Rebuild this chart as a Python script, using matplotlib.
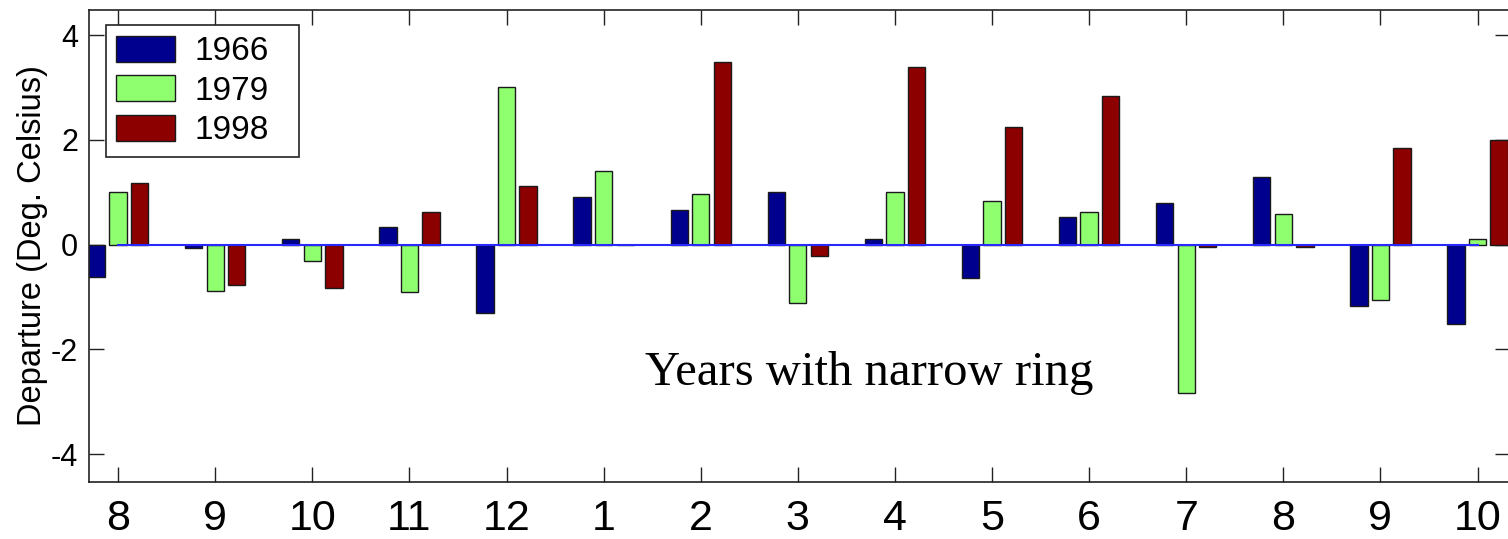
import numpy as np
import matplotlib
matplotlib.use("Agg")
import matplotlib.pyplot as plt

# months along the x axis (Aug of previous year through Oct)
months = ["8", "9", "10", "11", "12", "1", "2", "3", "4", "5", "6", "7", "8", "9", "10"]
years = ["1966", "1979", "1998"]

# temperature departures (deg C)
dep_1966 = [-0.62, -0.07, 0.10, 0.33, -1.30, 0.91, 0.67, 1.00, 0.10, -0.64, 0.52, 0.80, 1.29, -1.17, -1.52]
dep_1979 = [1.00, -0.88, -0.32, -0.91, 3.01, 1.40, 0.97, -1.12, 1.00, 0.84, 0.62, -2.83, 0.59, -1.05, 0.10]
dep_1998 = [1.17, -0.77, -0.82, 0.62, 1.12, 0.00, 3.48, -0.21, 3.39, 2.25, 2.84, -0.04, -0.04, 1.84, 2.00]

colors = ["#00008F", "#8FFF70", "#8C0000"]

plt.rcParams['font.family'] = ['Liberation Sans', 'DejaVu Sans']
plt.rcParams['axes.unicode_minus'] = False

W, H = 1508, 539
fig = plt.figure(figsize=(W / 100, H / 100), dpi=100)
ax = fig.add_axes([89 / W, 57 / H, 1421 / W, 472 / H])

x = np.arange(1, len(months) + 1)
step = 0.222
width = 0.178
for i, (vals, lab, c) in enumerate(zip([dep_1966, dep_1979, dep_1998], years, colors)):
    ax.bar(x + (i - 1) * step, vals, width, color=c, edgecolor="#1a1a1a",
           linewidth=1.0, label=lab, zorder=2)

# baseline
ax.plot([x[0], x[-1]], [0, 0], color="#2828FF", linewidth=1.5, zorder=3)

ax.set_xlim(0.7, 0.7 + 1421 / 97.1)
ax.set_ylim(-4.53, 4.48)
ax.set_xticks(x)
ax.set_xticklabels(months)
ax.set_yticks([-4, -2, 0, 2, 4])

ax.tick_params(axis='x', direction='in', length=11, width=1, labelsize=31,
               pad=12, top=True, color="#222222")
ax.tick_params(axis='y', direction='in', length=11, width=1, labelsize=22,
               pad=8, right=True, color="#222222")
for s in ax.spines.values():
    s.set_linewidth(1.2)
    s.set_color("#222222")

ax.set_ylabel("Departure (Deg. Celsius)", fontsize=23.5, labelpad=2)

ax.text(8.74, -2.68, "Years with narrow ring", fontsize=35,
        family=['Liberation Serif', 'DejaVu Serif'], ha='center', va='baseline')

# legend box ~193 px wide, top-left at (106, 25) px
leg = ax.legend(loc='upper left', bbox_to_anchor=(0.0118, 0.5, 0.136, 0.468),
                mode='expand', borderaxespad=0,
                fontsize=24, handlelength=1.75, handleheight=0.82, handletextpad=0.6,
                labelspacing=0.24, borderpad=0.32, fancybox=False, framealpha=1)
leg.get_frame().set_edgecolor("#222222")
leg.get_frame().set_linewidth(1.2)

fig.savefig("out.png", dpi=100)
